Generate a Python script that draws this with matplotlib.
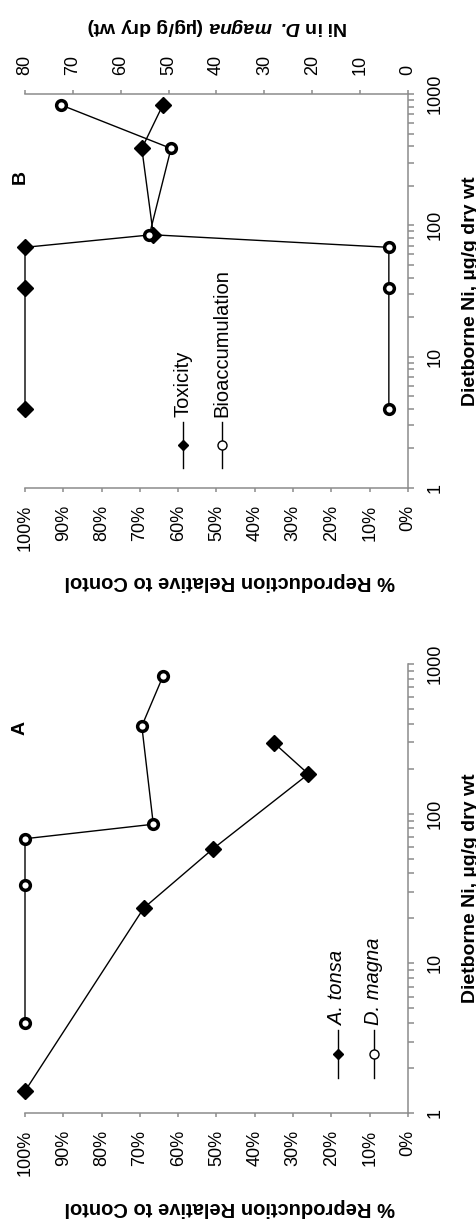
import matplotlib
matplotlib.use('Agg')
import matplotlib.pyplot as plt
from matplotlib.lines import Line2D
from matplotlib.ticker import FixedLocator, NullFormatter

plt.rcParams['font.family'] = ['Liberation Sans', 'DejaVu Sans']
plt.rcParams['mathtext.fontset'] = 'custom'
plt.rcParams['mathtext.bfit'] = 'Liberation Sans:italic:bold'
plt.rcParams['mathtext.it'] = 'Liberation Sans:italic'
plt.rcParams['mathtext.rm'] = 'Liberation Sans'

tonsa_conc = [1.4, 23.4, 58, 184, 297]
tonsa_repro = [100, 69, 51, 26, 35]
magna_conc = [4.0, 33.6, 68, 85, 385, 826]
magna_repro = [100, 100, 100, 66.5, 69.5, 64]
bioacc_ni = [4, 4, 4, 54, 49.5, 72.5]

pct_ticks = [0, 10, 20, 30, 40, 50, 60, 70, 80, 90, 100]
pct_labels = [f'{p}%' for p in pct_ticks]
conc_ticks = [1, 10, 100, 1000]
conc_labels = ['1', '10', '100', '1000']
ni_ticks = [0, 10, 20, 30, 40, 50, 60, 70, 80]
ni_labels = [str(v) for v in ni_ticks]

W, H = 477, 1221
GRAY = '#8c8c8c'


def rect(x0, y0, x1, y1):
    return [x0 / W, 1 - y1 / H, (x1 - x0) / W, (y1 - y0) / H]


def fx(x):
    return x / W


def fy(y):
    return 1 - y / H


def setup(ax):
    ax.set_yscale('log')
    ax.set_ylim(1, 1000)
    ax.set_xlim(100, 0)
    for s in ['top', 'left']:
        ax.spines[s].set_visible(False)
    for s in ['bottom', 'right']:
        ax.spines[s].set_color(GRAY)
        ax.spines[s].set_linewidth(1.1)
    ax.yaxis.tick_right()
    ax.set_yticks(conc_ticks, labels=conc_labels, rotation=90, va='center', fontsize=13)
    ax.yaxis.set_minor_locator(FixedLocator([m * d for d in [1, 10, 100] for m in range(2, 10)]))
    ax.yaxis.set_minor_formatter(NullFormatter())
    ax.tick_params(axis='y', which='both', direction='out', length=4, width=1.1,
                   color=GRAY, pad=9.5)
    ax.set_xticks(pct_ticks, labels=pct_labels, rotation=90, fontsize=13)
    ax.tick_params(axis='x', direction='out', length=3, width=1.1, color=GRAY, pad=9)
    ax.set_xlabel('% Reproduction Relative to Contol', fontsize=14.5, fontweight='bold',
                  rotation=180, va='center', ha='center')
    ax.set_ylabel('Dietborne Ni, \u00b5g/g dry wt', fontsize=14, fontweight='bold',
                  rotation=90, va='center', ha='center')
    ax.yaxis.set_label_position('right')


def legend_entry(x, y_top, y_bot, marker, text, italic):
    fig.add_artist(Line2D([fx(x), fx(x)], [fy(y_top), fy(y_bot)], color='black', lw=1.0))
    if marker == 'D':
        fig.add_artist(Line2D([fx(x)], [fy((y_top + y_bot) / 2)], marker='D', ms=5,
                              color='black'))
    else:
        fig.add_artist(Line2D([fx(x)], [fy((y_top + y_bot) / 2)], marker='o', ms=6.5,
                              mfc='white', mec='black', mew=1.0, color='black'))
    fig.text(fx(x), fy(y_top - 5), text, rotation=90, rotation_mode='anchor',
             ha='left', va='center', fontsize=14.5, style='italic' if italic else 'normal')


fig = plt.figure(figsize=(W / 100, H / 100), dpi=100)

# panel A
axA = fig.add_axes(rect(25, 664, 408, 1113))
setup(axA)
axA.plot(tonsa_repro, tonsa_conc, color='black', lw=1.0, marker='D', ms=8.5, mfc='black',
         mec='black', clip_on=False)
axA.plot(magna_repro, magna_conc, color='black', lw=1.0, marker='o', ms=7, mfc='white',
         mec='black', mew=2.5, clip_on=False)
axA.xaxis.set_label_coords((230 - 25) / 383, -(1207 - 1113) / 449)
axA.yaxis.set_label_coords((462 - 25) / 383, 0.5)
fig.text(fx(20), fy(728), 'A', rotation=90, ha='center', va='center', fontsize=14,
         fontweight='bold')
legend_entry(338, 1030, 1078, 'D', 'A. tonsa', True)
legend_entry(374, 1030, 1078, 'o', 'D. magna', True)

# panel B
axB = fig.add_axes(rect(25, 94, 408, 488))
setup(axB)
axB.plot(magna_repro, magna_conc, color='black', lw=1.0, marker='D', ms=8.5, mfc='black',
         mec='black', clip_on=False)
axB.xaxis.set_label_coords((230 - 25) / 383, -(582 - 488) / 394)
axB.yaxis.set_label_coords((462 - 25) / 383, 0.5)

ax2 = axB.twiny()
ax2.set_xlim(80, 0)
for s in ['bottom', 'left', 'right']:
    ax2.spines[s].set_visible(False)
ax2.spines['top'].set_color(GRAY)
ax2.spines['top'].set_linewidth(1.1)
ax2.set_xticks(ni_ticks, labels=ni_labels, rotation=90, fontsize=13)
ax2.tick_params(axis='x', direction='out', length=3, width=1.1, color=GRAY, pad=10.5)
ax2.plot(bioacc_ni, magna_conc, color='black', lw=1.0, marker='o', ms=7, mfc='white',
         mec='black', mew=2.5, clip_on=False)
ax2.set_xlabel('Ni in $\\bfit{D.\\ magna}$ (\u00b5g/g dry wt)',
               fontsize=14, fontweight='bold', rotation=180, va='center', ha='center')
ax2.xaxis.set_label_coords((217 - 25) / 383, 1 + (94 - 26) / 394)
fig.text(fx(20), fy(177), 'B', rotation=90, ha='center', va='center', fontsize=14,
         fontweight='bold')
legend_entry(183, 422, 468, 'D', 'Toxicity', False)
legend_entry(222, 422, 468, 'o', 'Bioaccumulation', False)

fig.savefig('out.png', dpi=100)
